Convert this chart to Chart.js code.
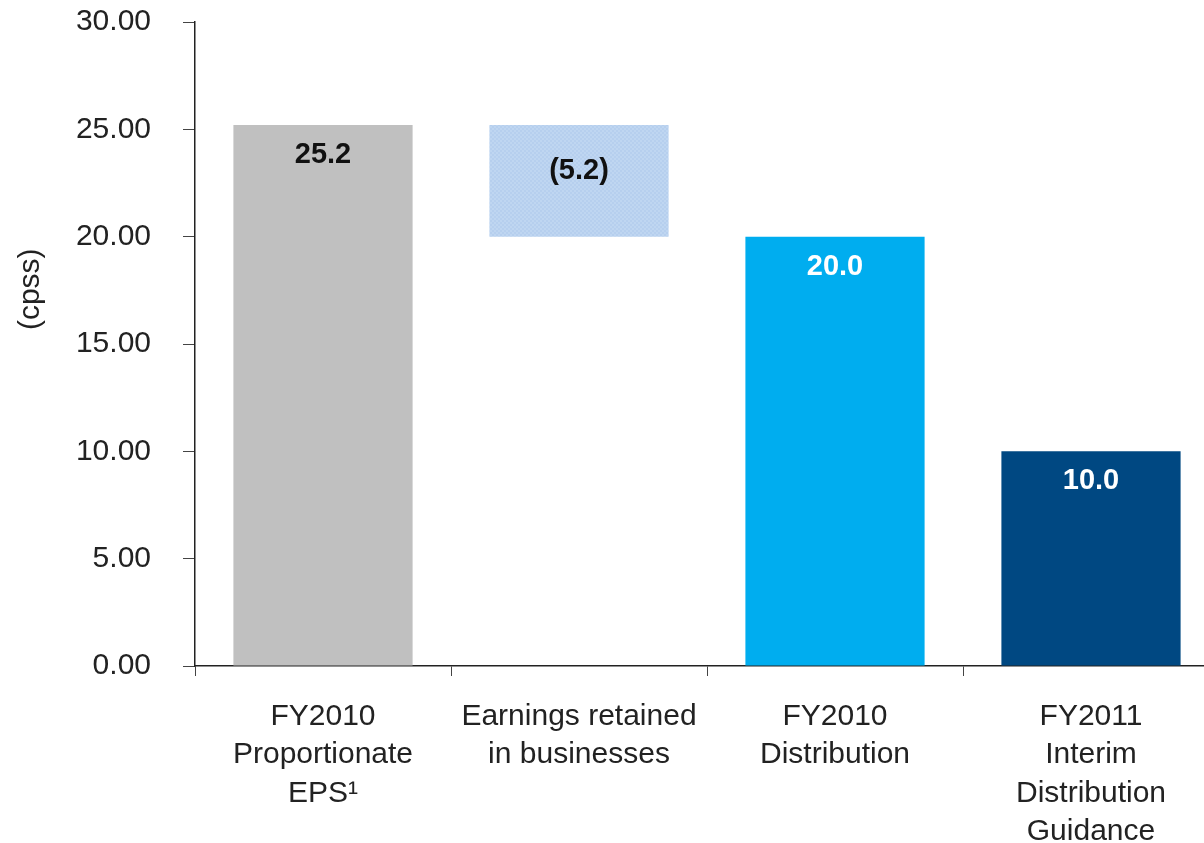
<!DOCTYPE html>
<html>
<head>
<meta charset="utf-8">
<script src="https://cdn.jsdelivr.net/npm/chart.js@4"></script>
<style>
  html, body { margin: 0; padding: 0; background: #fff; overflow: hidden; }
  #wrap { width: 1225px; height: 843px; }
</style>
</head>
<body>
<div id="wrap"><canvas id="bridgeChart"></canvas></div>
<script>
// cents per stapled security
const categories = [
  ["FY2010", "Proportionate", "EPS\u00B9"],
  ["Earnings retained", "in businesses"],
  ["FY2010", "Distribution"],
  ["FY2011", "Interim", "Distribution", "Guidance"]
];
const barStart = [0, 20.0, 0, 0];
const barEnd = [25.2, 25.2, 20.0, 10.0];
const valueLabels = ["25.2", "(5.2)", "20.0", "10.0"];
const yTicks = [0, 5, 10, 15, 20, 25, 30];

const FONT = "'Liberation Sans', Arial, Helvetica, sans-serif";

// faint checker fill for the retained-earnings step
function checkerFill() {
  const c = document.createElement("canvas");
  c.width = 4; c.height = 4;
  const g = c.getContext("2d");
  g.fillStyle = "#b6cfee";
  g.fillRect(0, 0, 4, 4);
  g.fillStyle = "#bfd6f1";
  g.fillRect(0, 0, 2, 2);
  g.fillRect(2, 2, 2, 2);
  return g.createPattern(c, "repeat");
}

const barColors = ["#c0c0c0", checkerFill(), "#00adef", "#004882"];
const labelColors = ["#111", "#111", "#fff", "#fff"];

const barLabels = {
  id: "barLabels",
  afterDatasetsDraw(chart) {
    const ctx = chart.ctx;
    const meta = chart.getDatasetMeta(0);
    ctx.save();
    ctx.font = "bold 29px " + FONT;
    ctx.textAlign = "center";
    ctx.textBaseline = "middle";
    meta.data.forEach((bar, i) => {
      const top = Math.min(bar.y, bar.base);
      const bottom = Math.max(bar.y, bar.base);
      let y = top + 30;
      if (barStart[i] > 0) y = (top + bottom) / 2 - 10;
      ctx.fillStyle = labelColors[i];
      ctx.fillText(valueLabels[i], bar.x, y);
    });
    ctx.restore();
  }
};

const unitTitle = {
  id: "unitTitle",
  afterDraw(chart) {
    const ctx = chart.ctx;
    const area = chart.chartArea;
    ctx.save();
    ctx.translate(31, area.top + area.height * 0.415);
    ctx.rotate(-Math.PI / 2);
    ctx.font = "30px " + FONT;
    ctx.fillStyle = "#222";
    ctx.textAlign = "center";
    ctx.textBaseline = "middle";
    ctx.fillText("(cpss)", 0, 0);
    ctx.restore();
  }
};

new Chart(document.getElementById("bridgeChart"), {
  type: "bar",
  data: {
    labels: categories,
    datasets: [{
      data: barStart.map((s, i) => [s, barEnd[i]]),
      backgroundColor: barColors,
      borderWidth: 0,
      barPercentage: 0.7,
      categoryPercentage: 1.0
    }]
  },
  options: {
    responsive: true,
    maintainAspectRatio: false,
    animation: false,
    layout: { padding: { top: 22, right: 6, left: 0, bottom: 0 } },
    plugins: {
      legend: { display: false },
      tooltip: { enabled: false }
    },
    scales: {
      x: {
        grid: {
          offset: true,
          drawOnChartArea: false,
          tickLength: 10,
          color: "#444",
          lineWidth: 1
        },
        border: { color: "#222", width: 1.5 },
        ticks: {
          color: "#222",
          font: { family: FONT, size: 30, lineHeight: 1.27 },
          padding: 22,
          maxRotation: 0,
          autoSkip: false
        },
        afterFit(scale) { scale.height = 177; }
      },
      y: {
        min: 0,
        max: 30,
        afterBuildTicks(scale) { scale.ticks = yTicks.map(v => ({ value: v })); },
        grid: {
          drawOnChartArea: false,
          tickLength: 12,
          color: "#444",
          lineWidth: 1
        },
        border: { color: "#222", width: 1.5 },
        ticks: {
          color: "#222",
          font: { family: FONT, size: 30 },
          padding: 32,
          callback: v => v.toFixed(2)
        },
        afterFit(scale) {
          scale.width = 195;
          scale.paddingTop = 0;
          scale.paddingBottom = 0;
        }
      }
    }
  },
  plugins: [barLabels, unitTitle]
});
</script>
</body>
</html>
